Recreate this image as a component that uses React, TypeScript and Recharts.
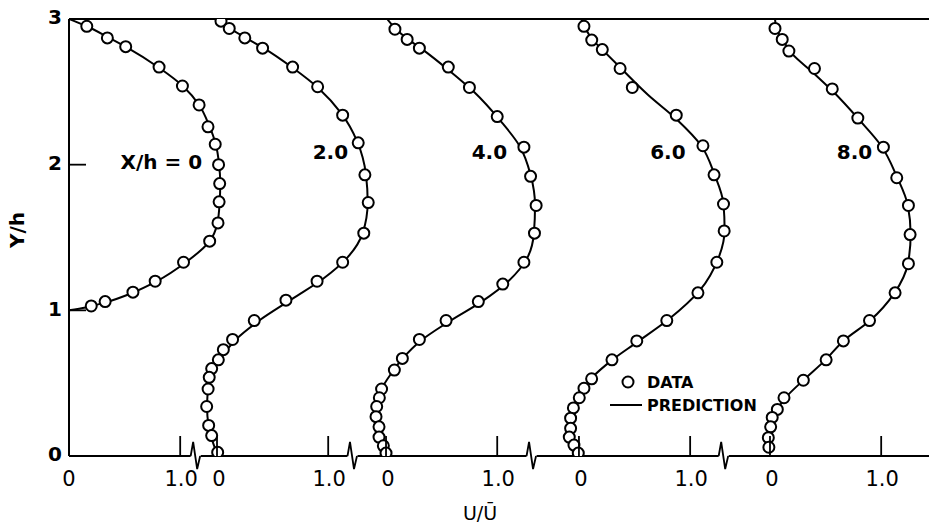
import React from 'react';
import { ComposedChart, XAxis, YAxis, Line, Scatter, ReferenceLine, ReferenceDot } from 'recharts';

const FONT = "'DejaVu Sans', 'Liberation Sans', sans-serif";

// Profile stations and the horizontal origin (U/Ū = 0) of each profile on the shared axis
const profileLabels = ['X/h = 0', '2.0', '4.0', '6.0', '8.0'];
const profileOffsets = [0, 1.331, 2.851, 4.586, 6.304];
const labelU = [0.83, 1.02, 0.93, 0.8, 0.76];
const labelY = [2.02, 2.09, 2.09, 2.09, 2.09];
const yTicks = [0, 1, 2, 3];
const xMax = 7.734;

// [U/Ū, Y/h]
const data0 = [[0.16,2.95],[0.345,2.87],[0.51,2.81],[0.81,2.67],[1.02,2.54],[1.17,2.41],[1.25,2.26],[1.315,2.14],[1.345,2.0],[1.355,1.87],[1.35,1.745],[1.34,1.6],[1.265,1.475],[1.03,1.33],[0.775,1.2],[0.575,1.125],[0.325,1.06],[0.2,1.03]];
const pred0 = [[0,3],[0.16,2.95],[0.35,2.875],[0.52,2.805],[0.81,2.665],[1.03,2.535],[1.17,2.41],[1.26,2.27],[1.32,2.14],[1.35,2.0],[1.36,1.87],[1.355,1.745],[1.335,1.6],[1.26,1.47],[1.06,1.335],[0.79,1.2],[0.57,1.12],[0.33,1.055],[0.15,1.02],[0,1]];

const data1 = [[0.036,2.985],[0.11,2.935],[0.25,2.87],[0.41,2.8],[0.68,2.67],[0.905,2.535],[1.13,2.34],[1.27,2.15],[1.33,1.93],[1.36,1.74],[1.32,1.53],[1.13,1.33],[0.9,1.2],[0.62,1.07],[0.335,0.93],[0.14,0.8],[0.057,0.73],[0.012,0.66],[-0.048,0.6],[-0.07,0.54],[-0.08,0.46],[-0.093,0.34],[-0.075,0.21],[-0.048,0.14],[0.006,0.025]];
const pred1 = [[0.03,3],[0.11,2.94],[0.26,2.87],[0.42,2.8],[0.68,2.665],[0.92,2.52],[1.12,2.35],[1.26,2.16],[1.34,1.93],[1.355,1.74],[1.31,1.53],[1.17,1.36],[0.96,1.22],[0.68,1.08],[0.38,0.93],[0.17,0.8],[0.06,0.7],[-0.02,0.62],[-0.07,0.5],[-0.09,0.35],[-0.075,0.2],[-0.04,0.1],[0.01,0]];

const data2 = [[0.08,2.93],[0.19,2.86],[0.3,2.8],[0.56,2.67],[0.75,2.53],[1.0,2.33],[1.24,2.12],[1.3,1.92],[1.35,1.72],[1.335,1.53],[1.24,1.33],[1.05,1.18],[0.83,1.06],[0.54,0.93],[0.3,0.8],[0.147,0.67],[0.075,0.59],[-0.04,0.46],[-0.06,0.4],[-0.084,0.34],[-0.09,0.27],[-0.063,0.2],[-0.063,0.13],[-0.024,0.07],[0.0,0.02]];
const pred2 = [[0.01,3],[0.09,2.93],[0.2,2.86],[0.33,2.79],[0.57,2.645],[0.79,2.5],[1.03,2.3],[1.2,2.13],[1.3,1.93],[1.34,1.72],[1.33,1.53],[1.27,1.36],[1.1,1.2],[0.86,1.06],[0.56,0.92],[0.31,0.79],[0.15,0.67],[0.05,0.57],[-0.04,0.46],[-0.08,0.35],[-0.085,0.25],[-0.06,0.14],[-0.02,0.06],[0,0]];

const data3 = [[0.045,2.95],[0.115,2.855],[0.21,2.79],[0.37,2.66],[0.48,2.53],[0.875,2.34],[1.115,2.13],[1.215,1.93],[1.3,1.73],[1.306,1.545],[1.24,1.33],[1.07,1.12],[0.79,0.93],[0.52,0.79],[0.297,0.66],[0.114,0.53],[0.045,0.465],[0.003,0.4],[-0.05,0.33],[-0.075,0.26],[-0.075,0.19],[-0.087,0.13],[-0.045,0.075],[-0.006,0.02]];
const pred3 = [[0.02,3],[0.05,2.95],[0.12,2.86],[0.21,2.79],[0.38,2.66],[0.62,2.48],[0.88,2.31],[1.1,2.13],[1.22,1.93],[1.3,1.73],[1.31,1.55],[1.25,1.35],[1.09,1.14],[0.81,0.94],[0.52,0.78],[0.3,0.66],[0.12,0.54],[0.02,0.44],[-0.05,0.34],[-0.08,0.24],[-0.08,0.14],[-0.05,0.07],[0,0]];

const data4 = [[0.045,2.935],[0.11,2.86],[0.17,2.78],[0.4,2.66],[0.56,2.52],[0.79,2.32],[1.02,2.12],[1.14,1.91],[1.245,1.72],[1.26,1.52],[1.245,1.32],[1.125,1.12],[0.895,0.93],[0.66,0.79],[0.505,0.66],[0.3,0.52],[0.126,0.4],[0.066,0.32],[0.02,0.265],[0.006,0.2],[-0.015,0.126],[-0.01,0.06]];
const pred4 = [[0.045,3],[0.06,2.93],[0.12,2.85],[0.2,2.76],[0.39,2.63],[0.57,2.5],[0.8,2.31],[1.0,2.13],[1.14,1.92],[1.24,1.72],[1.265,1.52],[1.24,1.32],[1.12,1.12],[0.9,0.93],[0.66,0.79],[0.5,0.66],[0.3,0.52],[0.14,0.4],[0.06,0.31],[0.02,0.23],[0.0,0.13],[-0.005,0.05]];

const measured = [data0, data1, data2, data3, data4];
const predicted = [pred0, pred1, pred2, pred3, pred4];

const toGlobal = (pts: number[][], off: number) => pts.map(([u, y]) => ({ x: off + u, y }));

const zeroTicks = profileOffsets;
const oneTicks = profileOffsets.map((o) => o + 1);
const breakTicks = profileOffsets.slice(1).map((o, i) => oneTicks[i] + 0.42 * (o - oneTicks[i]));
const xTicks = [...zeroTicks, ...oneTicks, ...breakTicks].sort((a, b) => a - b);

const near = (arr: number[], v: number) => arr.findIndex((t) => Math.abs(t - v) < 1e-6);

const XTick = (props: any) => {
  const { x, y, payload } = props;
  const v = payload.value;
  const zi = near(zeroTicks, v);
  const oi = near(oneTicks, v);
  const bi = near(breakTicks, v);
  if (bi >= 0) {
    return (
      <g>
        <line x1={x - 5} x2={x + 5} y1={y} y2={y} stroke="#fff" strokeWidth={4} />
        <path d={`M${x - 5},${y} L${x - 2.5},${y - 14} L${x + 1.5},${y + 13} L${x + 4.5},${y}`} fill="none" stroke="#000" strokeWidth={1.8} />
      </g>
    );
  }
  if (zi >= 0) {
    return (
      <g>
        {zi > 0 && <line x1={x} x2={x} y1={y} y2={y - 20} stroke="#000" strokeWidth={1.8} />}
        <text x={x + (zi > 0 ? 2 : 0)} y={y + 30} textAnchor="middle" fontFamily={FONT} fontSize={21} fill="#000">0</text>
      </g>
    );
  }
  if (oi >= 0) {
    return (
      <g>
        <line x1={x} x2={x} y1={y} y2={y - 20} stroke="#000" strokeWidth={1.8} />
        <text x={x + 1} y={y + 30} textAnchor="middle" fontFamily={FONT} fontSize={21} fill="#000">1.0</text>
      </g>
    );
  }
  return null;
};

const YTick = (props: any) => {
  const { x, y, payload } = props;
  const v = payload.value;
  return (
    <g>
      {(v === 1 || v === 2) && <line x1={x} x2={x + 17} y1={y} y2={y} stroke="#000" strokeWidth={1.8} />}
      <text x={x - 7} y={y - 2} dy="0.36em" textAnchor="end" fontFamily={FONT} fontWeight="bold" fontSize={20} fill="#000">{v}</text>
    </g>
  );
};

const Dot = (props: any) => (
  <circle cx={props.cx} cy={props.cy} r={5.5} fill="#fff" stroke="#000" strokeWidth={2} />
);

export default function App() {
  return (
    <div style={{ position: 'absolute', left: 0, top: 0, width: 929, height: 528, background: '#fff' }}>
      <ComposedChart width={929} height={528} margin={{ top: 19, right: 0, left: 0, bottom: 0 }}>
        <XAxis
          type="number"
          dataKey="x"
          domain={[0, xMax]}
          allowDataOverflow
          ticks={xTicks}
          interval={0}
          height={72}
          tickSize={0}
          tickMargin={0}
          tickLine={false}
          axisLine={{ stroke: '#000', strokeWidth: 2 }}
          tick={<XTick />}
        />
        <YAxis
          type="number"
          dataKey="y"
          domain={[0, 3]}
          allowDataOverflow
          ticks={yTicks}
          interval={0}
          width={69}
          tickSize={0}
          tickMargin={0}
          tickLine={false}
          axisLine={{ stroke: '#000', strokeWidth: 2 }}
          tick={<YTick />}
        />
        <ReferenceLine y={3} stroke="#000" strokeWidth={2} />
        {predicted.map((p, i) => (
          <Line
            key={'p' + i}
            data={toGlobal(p, profileOffsets[i])}
            dataKey="y"
            type="monotoneY"
            stroke="#000"
            strokeWidth={2}
            dot={false}
            activeDot={false}
            isAnimationActive={false}
          />
        ))}
        {measured.map((d, i) => (
          <Scatter
            key={'d' + i}
            data={toGlobal(d, profileOffsets[i])}
            shape={<Dot />}
            isAnimationActive={false}
          />
        ))}
        {profileLabels.map((lab, i) => (
          <ReferenceDot
            key={'l' + i}
            x={profileOffsets[i] + labelU[i]}
            y={labelY[i]}
            r={0}
            fill="none"
            stroke="none"
            label={{ value: lab, position: 'center', fill: '#000', fontSize: 20, fontWeight: 'bold', fontFamily: FONT }}
          />
        ))}
      </ComposedChart>
      <svg width={929} height={528} style={{ position: 'absolute', left: 0, top: 0, pointerEvents: 'none' }}>
        <text transform="translate(24,230) rotate(-90)" textAnchor="middle" fontFamily={FONT} fontWeight="bold" fontSize={20} fill="#000">Y/h</text>
        <text x={480} y={520} textAnchor="middle" fontFamily={FONT} fontSize={19} fill="#000">U/Ū</text>
        <circle cx={628} cy={382} r={5.5} fill="#fff" stroke="#000" strokeWidth={2} />
        <text x={647} y={388} fontFamily={FONT} fontWeight="bold" fontSize={16} fill="#000">DATA</text>
        <line x1={610} x2={642} y1={405} y2={405} stroke="#000" strokeWidth={2} />
        <text x={647} y={411} fontFamily={FONT} fontWeight="bold" fontSize={16} fill="#000">PREDICTION</text>
      </svg>
    </div>
  );
}
